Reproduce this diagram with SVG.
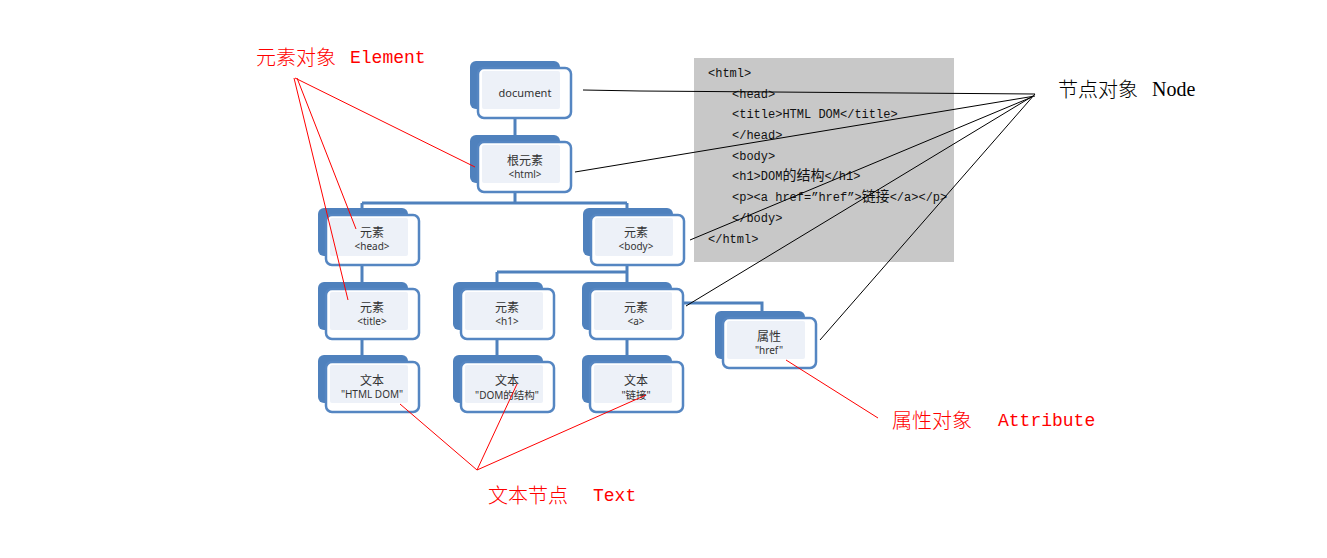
<svg xmlns="http://www.w3.org/2000/svg" xmlns:xlink="http://www.w3.org/1999/xlink" width="1327" height="558" viewBox="0 0 1327 558">
<style>
.back{fill:#4f81bd}
.front{fill:#ffffff;stroke:#5586c2;stroke-width:2.5}
.inner{fill:#edf1f8}
.conn{fill:none;stroke:#4f81bd;stroke-width:3}
.cn{font-family:"Noto Sans CJK SC",sans-serif;font-size:12px;fill:#333;text-anchor:middle}
.tg{font-family:"Noto Sans","Liberation Sans",sans-serif;font-size:10px;fill:#333;text-anchor:middle}
.tg .c{font-family:"Noto Sans CJK SC",sans-serif;font-size:10.5px}
.code{font-family:"Liberation Mono","Noto Sans CJK SC",monospace;font-size:12px;fill:#111}
.code .c{font-family:"Noto Sans CJK SC",sans-serif;font-size:14px}
.lblc{font-family:"Noto Sans CJK SC",sans-serif;font-size:20px;font-weight:300}
.lblm{font-family:"Liberation Mono",monospace;font-size:18px}
.red{fill:#ff0000}
.red-l{stroke:#ff0000;stroke-width:1;fill:none}
.blk-l{stroke:#000;stroke-width:1;fill:none}
</style>
<defs>
<g id="box">
<rect class="back" x="0" y="0" width="90" height="48" rx="6"/>
<rect class="front" x="8" y="7" width="93" height="50" rx="6"/>
<rect class="inner" x="12" y="10" width="78" height="38" rx="2"/>
</g>
</defs>
<rect width="1327" height="558" fill="#ffffff"/>

<rect id="code-bg" x="694" y="58" width="260" height="204" fill="#c8c8c8"/>
<g id="code" class="code">
<text x="708" y="76.5">&lt;html&gt;</text>
<text x="732" y="97.5">&lt;head&gt;</text>
<text x="732" y="118">&lt;title&gt;HTML DOM&lt;/title&gt;</text>
<text x="732" y="138.5">&lt;/head&gt;</text>
<text x="732" y="159.5">&lt;body&gt;</text>
<text x="732" y="180">&lt;h1&gt;DOM<tspan class="c">的结构</tspan>&lt;/h1&gt;</text>
<text x="732" y="201">&lt;p&gt;&lt;a href=”href”&gt;<tspan class="c">链接</tspan>&lt;/a&gt;&lt;/p&gt;</text>
<text x="732" y="221.5">&lt;/body&gt;</text>
<text x="708" y="242.5">&lt;/html&gt;</text>
</g>

<g id="connectors" class="conn">
<path d="M515,118 V142"/>
<path d="M515,192 V203 M362,203 H627 M362,203 V214 M627,203 V214"/>
<path d="M362,266 V289"/>
<path d="M627,266 V272 M497,272 H627 M497,272 V289 M627,272 V289"/>
<path d="M683,303 H762 V318"/>
<path d="M362,340 V362 M497,340 V362 M627,340 V362"/>
</g>

<g id="node-document">
<use xlink:href="#box" x="470" y="61"/>
<text class="tg" x="525" y="97" style="font-size:11px">document</text>
</g>
<g id="node-html">
<use xlink:href="#box" x="470" y="135"/>
<text class="cn" x="525" y="165">根元素</text>
<text class="tg" x="525" y="177.5">&lt;html&gt;</text>
</g>
<g id="node-head">
<use xlink:href="#box" x="318" y="208"/>
<text class="cn" x="372" y="237">元素</text>
<text class="tg" x="372" y="249.5">&lt;head&gt;</text>
</g>
<g id="node-body">
<use xlink:href="#box" x="583" y="208"/>
<text class="cn" x="636" y="237">元素</text>
<text class="tg" x="636" y="249.5">&lt;body&gt;</text>
</g>
<g id="node-title">
<use xlink:href="#box" x="318" y="282"/>
<text class="cn" x="372" y="311.5">元素</text>
<text class="tg" x="372" y="325">&lt;title&gt;</text>
</g>
<g id="node-h1">
<use xlink:href="#box" x="453" y="282"/>
<text class="cn" x="507" y="311.5">元素</text>
<text class="tg" x="507" y="325">&lt;h1&gt;</text>
</g>
<g id="node-a">
<use xlink:href="#box" x="582" y="282"/>
<text class="cn" x="636" y="311.5">元素</text>
<text class="tg" x="636" y="325">&lt;a&gt;</text>
</g>
<g id="node-href">
<use xlink:href="#box" x="715" y="311"/>
<text class="cn" x="769" y="341">属性</text>
<text class="tg" x="769" y="354">"href"</text>
</g>
<g id="node-text1">
<use xlink:href="#box" x="318" y="355"/>
<text class="cn" x="372" y="384.5">文本</text>
<text class="tg" x="372" y="398">"HTML DOM"</text>
</g>
<g id="node-text2">
<use xlink:href="#box" x="453" y="355"/>
<text class="cn" x="507" y="384.5">文本</text>
<text class="tg" x="507" y="398.5">"DOM<tspan class="c">的结构</tspan>"</text>
</g>
<g id="node-text3">
<use xlink:href="#box" x="582" y="355"/>
<text class="cn" x="636" y="384.5">文本</text>
<text class="tg" x="636" y="398.5">"<tspan class="c">链接</tspan>"</text>
</g>

<g id="annotation-lines">
<path class="red-l" d="M295,78 L475,167 M297,78 L356,229 M294,78 L348,300"/>
<path class="red-l" d="M477,470 L400,404 M477,470 L517,384 M477,470 L646,395"/>
<path class="red-l" d="M878,418 L786,360"/>
<path class="blk-l" d="M583,90 L640,91 L1035,94 M575,172 L1035,96 M690,240 L1032,97 M686,306 L1033,96 M820,340 L1035,94"/>
</g>

<g id="label-element" class="red">
<text class="lblc" x="256" y="64.5">元素对象</text>
<text class="lblm" x="350" y="63">Element</text>
</g>
<g id="label-node" fill="#000">
<text class="lblc" x="1058" y="97">节点对象</text>
<text x="1152" y="96" style="font-family:'Liberation Serif',serif;font-size:20px">Node</text>
</g>
<g id="label-attr" class="red">
<text class="lblc" x="892" y="427.5">属性对象</text>
<text class="lblm" x="998" y="426">Attribute</text>
</g>
<g id="label-text" class="red">
<text class="lblc" x="488" y="502.5">文本节点</text>
<text class="lblm" x="593" y="501">Text</text>
</g>
</svg>
